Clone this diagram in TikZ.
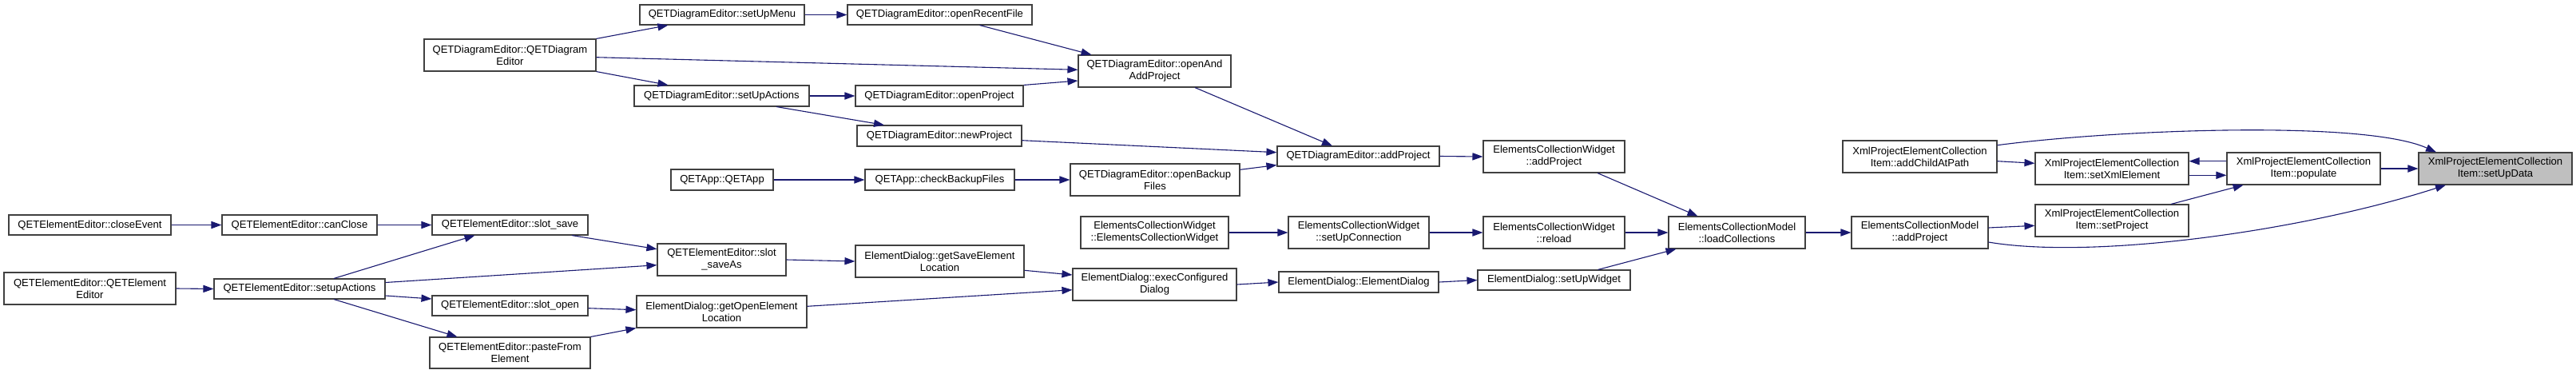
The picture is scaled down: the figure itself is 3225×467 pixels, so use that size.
\documentclass[tikz,border=0pt]{standalone}
\usepackage{fontspec}
\setmainfont{Liberation Sans}
\usetikzlibrary{arrows.meta,calc}
\definecolor{mblue}{HTML}{191970}
\definecolor{bordergray}{HTML}{404040}
\definecolor{targetgray}{HTML}{BFBFBF}
\newcommand\gnode[7][]{\node[gbox,#1,minimum width={(#5-#3)*0.5pt},minimum height={(#6-#4)*0.5pt}] (#2) at ({(#3+#5)/2},{(#4+#6)/2}) {#7};}
\begin{document}
\begin{tikzpicture}[x=0.5pt,y=-0.5pt,
  gbox/.style={draw=bordergray,line width=0.55pt,fill=white,inner sep=0pt,align=center,font=\fontsize{6.53}{7.5}\selectfont},
  gedge/.style={draw=mblue,line width=0.55pt,-{Triangle[length=6.5pt,width=4.6pt]}}]
\useasboundingbox (0,0) rectangle (3225,467);
% nodes
\gnode{n1}{11}{269}{214}{294}{QETElementEditor::closeEvent}
\gnode{n2}{278}{269}{472}{294}{QETElementEditor::canClose}
\gnode{n3}{5}{341}{220}{381}{QETElementEditor::QETElement\\Editor}
\gnode{n4}{268}{349}{482}{374}{QETElementEditor::setupActions}
\gnode{n5}{541}{269}{736}{294}{QETElementEditor::slot\_save}
\gnode{n6}{541}{370}{736}{395}{QETElementEditor::slot\_open}
\gnode{n7}{538}{422}{739}{461}{QETElementEditor::pasteFrom\\Element}
\gnode{n8}{531}{49}{746}{89}{QETDiagramEditor::QETDiagram\\Editor}
\gnode{n9}{801}{6}{1007}{31}{QETDiagramEditor::setUpMenu}
\gnode{n10}{794}{107}{1013}{133}{QETDiagramEditor::setUpActions}
\gnode{n11}{840}{212}{968}{238}{QETApp::QETApp}
\gnode{n12}{823}{305}{984}{345}{QETElementEditor::slot\\\_saveAs}
\gnode{n13}{797}{370}{1010}{410}{ElementDialog::getOpenElement\\Location}
\gnode{n14}{1061}{6}{1292}{31}{QETDiagramEditor::openRecentFile}
\gnode{n15}{1071}{107}{1281}{133}{QETDiagramEditor::openProject}
\gnode{n16}{1073}{157}{1279}{183}{QETDiagramEditor::newProject}
\gnode{n17}{1083}{212}{1270}{238}{QETApp::checkBackupFiles}
\gnode{n18}{1071}{307}{1282}{347}{ElementDialog::getSaveElement\\Location}
\gnode{n19}{1350}{69}{1541}{109}{QETDiagramEditor::openAnd\\AddProject}
\gnode{n20}{1340}{205}{1552}{245}{QETDiagramEditor::openBackup\\Files}
\gnode{n21}{1353}{271}{1538}{311}{ElementsCollectionWidget\\::ElementsCollectionWidget}
\gnode{n22}{1343}{336}{1548}{376}{ElementDialog::execConfigured\\Dialog}
\gnode{n23}{1599}{183}{1802}{208}{QETDiagramEditor::addProject}
\gnode{n24}{1613}{271}{1789}{311}{ElementsCollectionWidget\\::setUpConnection}
\gnode{n25}{1601}{340}{1801}{366}{ElementDialog::ElementDialog}
\gnode{n26}{1857}{176}{2034}{216}{ElementsCollectionWidget\\::addProject}
\gnode{n27}{1857}{271}{2034}{311}{ElementsCollectionWidget\\::reload}
\gnode{n28}{1850}{338}{2041}{363}{ElementDialog::setUpWidget}
\gnode{n29}{2089}{271}{2260}{311}{ElementsCollectionModel\\::loadCollections}
\gnode{n30}{2318}{271}{2489}{311}{ElementsCollectionModel\\::addProject}
\gnode{n31}{2307}{176}{2500}{216}{XmlProjectElementCollection\\Item::addChildAtPath}
\gnode{n32}{2548}{191}{2740}{231}{XmlProjectElementCollection\\Item::setXmlElement}
\gnode{n33}{2548}{256}{2740}{296}{XmlProjectElementCollection\\Item::setProject}
\gnode{n34}{2788}{191}{2980}{231}{XmlProjectElementCollection\\Item::populate}
\gnode[fill=targetgray]{n35}{3028}{191}{3220}{231}{XmlProjectElementCollection\\Item::setUpData}
% edges
\draw[gedge] (n1.east) -- (n2.west);
\draw[gedge] (n2.east) -- (n5.west);
\draw[gedge] (n3.east) -- (n4.west);
\draw[gedge] ($(n4.north)+(43,0)$) -- ($(n5.south)+(-44,0)$);
\draw[gedge] ($(n4.east)+(0,-8)$) -- ($(n12.west)+(0,6.7)$);
\draw[gedge] ($(n4.east)+(0,8.5)$) -- ($(n6.west)+(0,-8.5)$);
\draw[gedge] ($(n4.south)+(43,0)$) -- ($(n7.north)+(-66,0)$);
\draw[gedge] ($(n5.south)+(77.5,0)$) -- ($(n12.west)+(0,-13.3)$);
\draw[gedge] (n12.east) -- (n18.west);
\draw[gedge] ($(n6.east)+(0,3.2)$) -- ($(n13.west)+(0,-2.3)$);
\draw[gedge] (n7.north east) -- (n13.south west);
\draw[gedge] ($(n18.east)+(0,11.3)$) -- ($(n22.west)+(0,-12)$);
\draw[gedge] ($(n13.east)+(0,-6.7)$) -- ($(n22.west)+(0,6.7)$);
\draw[gedge] (n22.east) -- (n25.west);
\draw[gedge] (n25.east) -- (n28.west);
\draw[gedge] ($(n28.north)+(55,0)$) -- ($(n29.south)+(-76,0)$);
\draw[gedge] (n21.east) -- (n24.west);
\draw[gedge] (n24.east) -- (n27.west);
\draw[gedge] (n27.east) -- (n29.west);
\draw[gedge] ($(n26.south)+(54.5,0)$) -- ($(n29.north)+(-49,0)$);
\draw[gedge] (n23.east) -- (n26.west);
\draw[gedge] ($(n19.south)+(50.5,0)$) -- ($(n23.north)+(-32.5,0)$);
\draw[gedge] ($(n16.east)+(0,5.7)$) -- ($(n23.west)+(0,-4.8)$);
\draw[gedge] ($(n20.east)+(0,-12.7)$) -- ($(n23.west)+(0,11)$);
\draw[gedge] (n17.east) -- (n20.west);
\draw[gedge] (n11.east) -- (n17.west);
\draw[gedge] (n9.east) -- (n14.west);
\draw[gedge] ($(n14.south)+(50,0)$) -- ($(n19.north)+(-79,0)$);
\draw[gedge] (n8.north east) -- ($(n9.south)+(-67.6,0)$);
\draw[gedge] ($(n8.east)+(0,2.7)$) -- ($(n19.west)+(0,-1.7)$);
\draw[gedge] (n8.south east) -- ($(n10.north)+(-67,0)$);
\draw[gedge] (n10.east) -- (n15.west);
\draw[gedge] ($(n10.south)+(68.5,0)$) -- ($(n16.north)+(-69,0)$);
\draw[gedge] (n15.north east) -- ($(n19.west)+(0,12)$);
\draw[gedge] (n29.east) -- (n30.west);
\draw[gedge] ($(n30.east)+(0,-6)$) -- ($(n33.west)+(0,6.3)$);
\draw[gedge] ($(n30.east)+(0,12)$) .. controls (2620,325) and (2880,290) .. ($(n35.south)+(-62,0)$);
\draw[gedge] ($(n31.east)+(0,-14.3)$) .. controls (2650,162) and (2960,150) .. ($(n35.north)+(-74,0)$);
\draw[gedge] ($(n31.east)+(0,5.7)$) -- ($(n32.west)+(0,-6.7)$);
\draw[gedge] ($(n34.west)+(0,-9.3)$) -- ($(n32.east)+(0,-9.3)$);
\draw[gedge] ($(n32.east)+(0,8.3)$) -- ($(n34.west)+(0,8.3)$);
\draw[gedge] ($(n33.north)+(74,0)$) -- ($(n34.south)+(-75.4,0)$);
\draw[gedge] (n34.east) -- (n35.west);
\end{tikzpicture}
\end{document}
